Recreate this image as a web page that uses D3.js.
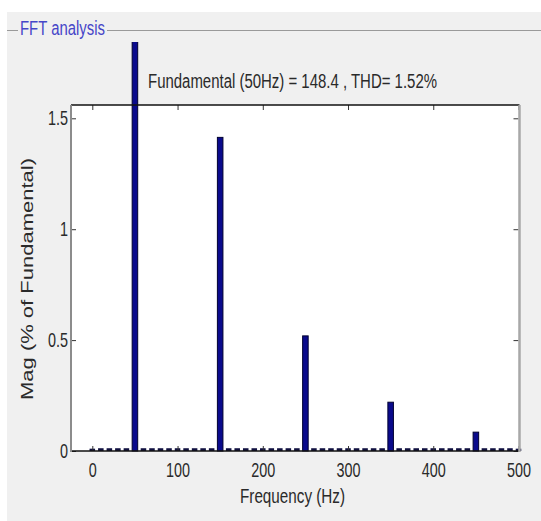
<!DOCTYPE html>
<html>
<head>
<meta charset="utf-8">
<script src="https://cdn.jsdelivr.net/npm/d3@7"></script>
<style>
    body { margin: 0; background: #fff; }
    svg { display: block; }
    text { font-family: "Liberation Sans", Arial, sans-serif; }
</style>
</head>
<body>
<div id="chart"></div>
<script>
// harmonic peaks (% of fundamental)
const harmonicFreqs = [50, 150, 250, 350, 450];
const harmonicMags = [100, 1.414, 0.519, 0.22, 0.085];

// small leftovers between the harmonics (10 Hz bins)
const binFreqs = [0, 10, 20, 30, 40, 60, 70, 80, 90, 100, 110, 120, 130, 140,
    160, 170, 180, 190, 200, 210, 220, 230, 240, 260, 270, 280, 290, 300, 310, 320, 330, 340,
    360, 370, 380, 390, 400, 410, 420, 430, 440, 460, 470, 480, 490, 500];
const binMags = [0.006, 0.008, 0.008, 0.008, 0.008, 0.008, 0.008, 0.008, 0.008, 0.008, 0.008, 0.008, 0.008, 0.008,
    0.008, 0.008, 0.008, 0.008, 0.008, 0.008, 0.008, 0.008, 0.008, 0.008, 0.008, 0.008, 0.008, 0.008, 0.008, 0.008, 0.008, 0.008,
    0.008, 0.008, 0.008, 0.008, 0.008, 0.008, 0.008, 0.008, 0.008, 0.008, 0.008, 0.008, 0.008, 0.006];

const xTicks = [0, 100, 200, 300, 400, 500];
const yTicks = [0, 0.5, 1, 1.5];

const panelTitle = "FFT analysis";
const infoText = "Fundamental (50Hz) = 148.4 , THD= 1.52%";
const xTitle = "Frequency (Hz)";
const yTitle = "Mag (% of Fundamental)";

const width = 541, height = 521;
const plot = {left: 71, right: 518.5, top: 105, bottom: 451};
const squeeze = 0.72;   // the original font is condensed

const svg = d3.select("#chart").append("svg")
    .attr("width", width)
    .attr("height", height);

// window background
svg.append("rect").attr("width", width).attr("height", height).attr("fill", "#fff");
svg.append("rect")
    .attr("x", 7).attr("y", 12)
    .attr("width", width - 7).attr("height", height - 12)
    .attr("fill", "#f0f0f0");

// group box frame line with its label
svg.append("line")
    .attr("x1", 7).attr("x2", 18).attr("y1", 30.5).attr("y2", 30.5)
    .attr("stroke", "#9a9a9a");
svg.append("line")
    .attr("x1", 107).attr("x2", width).attr("y1", 30.5).attr("y2", 30.5)
    .attr("stroke", "#9a9a9a");
svg.append("text")
    .attr("x", 20).attr("y", 35)
    .attr("font-size", 20)
    .attr("fill", "#4646c8")
    .attr("textLength", 85)
    .attr("lengthAdjust", "spacingAndGlyphs")
    .text(panelTitle);

const xScale = d3.scaleLinear()
    .domain([-25, 500])
    .range([plot.left, plot.right]);

const yScale = d3.scaleLinear()
    .domain([0, 1.56])
    .range([plot.bottom, plot.top]);

// white axes area
svg.append("rect")
    .attr("x", plot.left).attr("y", plot.top)
    .attr("width", plot.right - plot.left).attr("height", plot.bottom - plot.top)
    .attr("fill", "#fff");

// the bars may leave the axes upward, but not past the panel
svg.append("clipPath").attr("id", "panelClip")
    .append("rect")
    .attr("x", 0).attr("y", 42)
    .attr("width", width).attr("height", height - 42);

const barW = xScale(6.5) - xScale(0);
const bars = svg.append("g").attr("clip-path", "url(#panelClip)");

bars.selectAll("rect.bin")
    .data(binFreqs.map((f, i) => ({f: f, m: binMags[i]})))
    .enter()
    .append("rect")
    .attr("class", "bin")
    .attr("x", (d) => xScale(d.f) - barW / 2)
    .attr("y", (d) => yScale(d.m) - 1)
    .attr("width", barW)
    .attr("height", (d) => yScale(0) - yScale(d.m) + 1)
    .attr("fill", "#101040");

bars.selectAll("rect.harm")
    .data(harmonicFreqs.map((f, i) => ({f: f, m: harmonicMags[i]})))
    .enter()
    .append("rect")
    .attr("class", "harm")
    .attr("x", (d) => xScale(d.f) - barW / 2)
    .attr("y", (d) => yScale(d.m))
    .attr("width", barW)
    .attr("height", (d) => yScale(0) - yScale(d.m))
    .attr("fill", "#0a0a8c")
    .attr("stroke", "#000030")
    .attr("stroke-width", 1);

// axes, ticks pointing inward
const bottomAxis = svg.append("g")
    .attr("transform", `translate(0, ${plot.bottom})`)
    .call(d3.axisBottom(xScale).tickValues(xTicks).tickSizeInner(-5).tickSizeOuter(0).tickPadding(12));

const topAxis = svg.append("g")
    .attr("transform", `translate(0, ${plot.top})`)
    .call(d3.axisTop(xScale).tickValues(xTicks).tickSizeInner(-5).tickSizeOuter(0).tickFormat(""));

const leftAxis = svg.append("g")
    .attr("transform", `translate(${plot.left}, 0)`)
    .call(d3.axisLeft(yScale).tickValues(yTicks).tickSizeInner(-5).tickSizeOuter(0).tickFormat(d3.format("~g")));

const rightAxis = svg.append("g")
    .attr("transform", `translate(${plot.right}, 0)`)
    .call(d3.axisRight(yScale).tickValues(yTicks).tickSizeInner(-5).tickSizeOuter(0).tickFormat(""));

[bottomAxis, topAxis, leftAxis, rightAxis].forEach((ax) => {
    ax.select(".domain").remove();
    ax.selectAll(".tick line").attr("stroke", "#333");
});

bottomAxis.selectAll(".tick text")
    .attr("font-size", 20)
    .attr("fill", "#2a2a2a")
    .attr("transform", `scale(${squeeze}, 1)`);

leftAxis.selectAll(".tick text")
    .attr("font-size", 20)
    .attr("fill", "#2a2a2a")
    .attr("x", -4)
    .attr("transform", `scale(${squeeze}, 1)`);

// box: black top/bottom, grey sides
svg.append("line")
    .attr("x1", plot.left).attr("x2", plot.right + 1)
    .attr("y1", plot.top).attr("y2", plot.top)
    .attr("stroke", "#111").attr("stroke-width", 1.5);
svg.append("line")
    .attr("x1", plot.left).attr("x2", plot.right + 1)
    .attr("y1", plot.bottom).attr("y2", plot.bottom)
    .attr("stroke", "#111").attr("stroke-width", 1.5);
svg.append("line")
    .attr("x1", plot.left).attr("x2", plot.left)
    .attr("y1", plot.top).attr("y2", plot.bottom + 1)
    .attr("stroke", "#8c8c8c").attr("stroke-width", 2);
svg.append("line")
    .attr("x1", plot.right + 1).attr("x2", plot.right + 1)
    .attr("y1", plot.top).attr("y2", plot.bottom + 1)
    .attr("stroke", "#a8a8a8").attr("stroke-width", 2.5);

// texts
svg.append("text")
    .attr("x", 148).attr("y", 88)
    .attr("font-size", 20)
    .attr("fill", "#2a2a2a")
    .attr("textLength", 289)
    .attr("lengthAdjust", "spacingAndGlyphs")
    .text(infoText);

svg.append("text")
    .attr("x", 240).attr("y", 503)
    .attr("font-size", 20)
    .attr("fill", "#2a2a2a")
    .attr("textLength", 105)
    .attr("lengthAdjust", "spacingAndGlyphs")
    .text(xTitle);

svg.append("text")
    .attr("transform", "translate(33, 279) rotate(-90)")
    .attr("text-anchor", "middle")
    .attr("font-size", 17)
    .attr("fill", "#2a2a2a")
    .attr("textLength", 242)
    .attr("lengthAdjust", "spacingAndGlyphs")
    .text(yTitle);
</script>
</body>
</html>
